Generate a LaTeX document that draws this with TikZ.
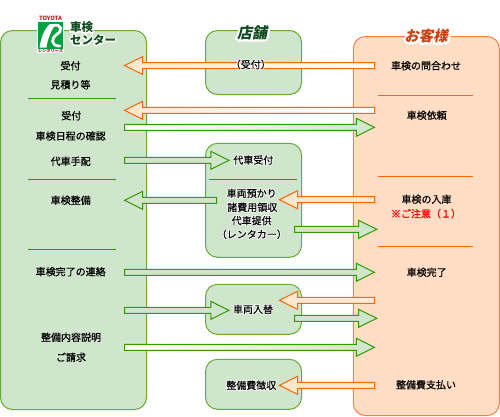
\documentclass[tikz,border=0pt]{standalone}
\usepackage{fontspec}
\usetikzlibrary{calc}
\setmainfont[FakeBold=0.6]{Noto Sans CJK JP}
\newfontfamily\halofont[FakeBold=16]{Noto Sans CJK JP}
\newfontfamily\titlehalo[FakeBold=26,FakeSlant=.2]{Noto Sans CJK JP Black}
\newfontfamily\titlefont[FakeSlant=.2]{Noto Sans CJK JP Black}
\newfontfamily\logotitlehalo[FakeBold=20]{Noto Sans CJK JP Black}
\newfontfamily\logotitle{Noto Sans CJK JP Black}
\newcommand{\halotext}[1]{\leavevmode\rlap{\color{white}\halofont #1}#1}
\newcommand{\titletext}[1]{\leavevmode\rlap{\color{white}\titlehalo #1}{\titlefont #1}}
\newcommand{\logotext}[1]{\leavevmode\rlap{\color{white}\logotitlehalo #1}{\logotitle #1}}
\definecolor{panelgreen}{HTML}{D0E6CC}
\definecolor{edgegreen}{HTML}{66AA33}
\definecolor{arrowgreen}{HTML}{339900}
\definecolor{panelorange}{HTML}{FFDEC5}
\definecolor{edgeorange}{HTML}{FF8040}
\definecolor{arroworange}{HTML}{FF6600}
\definecolor{peach}{HTML}{FFE8CC}
\definecolor{darktitle}{HTML}{0F4A1E}
\definecolor{redtitle}{HTML}{CC4010}
\definecolor{logogreen}{HTML}{00A040}
\definecolor{logored}{HTML}{D01020}
\tikzset{
  greenpanel/.style={draw=edgegreen,fill=panelgreen,line width=1pt,rounded corners=12pt,inner sep=0pt,outer sep=0pt},
  orangepanel/.style={draw=edgeorange,fill=panelorange,line width=1pt,rounded corners=12pt,inner sep=0pt,outer sep=0pt},
  label/.style={inner sep=0pt,font=\fontsize{10}{12}\selectfont,text=black},
  blockarrow/.style={line width=1pt,miter limit=10,to path={
    let \p1=(\tikztostart),\p2=(\tikztotarget),\n1={(\x2>\x1)?1:-1} in
    -- (\x1,{\y1+3pt}) -- ({\x2-\n1*18.2pt},{\y1+3pt}) -- ({\x2-\n1*18.2pt},{\y1+9pt})
    -- (\x2,\y1) -- ({\x2-\n1*18.2pt},{\y1-9pt}) -- ({\x2-\n1*18.2pt},{\y1-3pt})
    -- (\x1,{\y1-3pt}) -- cycle}},
  greenblock/.style={blockarrow,draw=arrowgreen,fill=panelgreen},
  orangeblock/.style={blockarrow,draw=arroworange,fill=peach},
  greenfade/.style={blockarrow,draw=arrowgreen,left color=white,right color=panelgreen},
  orangefade/.style={blockarrow,draw=arroworange,left color=peach,right color=white},
  greenrule/.style={draw=arrowgreen,line width=1pt},
  orangerule/.style={draw=arroworange,line width=1pt}
}
\begin{document}
\begin{tikzpicture}[x=1pt,y=-1pt]
\useasboundingbox (0,0) rectangle (500,416);
% panels
\node[greenpanel,minimum width=146pt,minimum height=379pt] (center) at (73.5,220) {};
\node[greenpanel,minimum width=96pt,minimum height=64pt] (shop1) at (253.5,62.5) {};
\node[greenpanel,minimum width=96pt,minimum height=114pt] (shop2) at (253.5,200.3) {};
\node[greenpanel,minimum width=96pt,minimum height=50pt] (shop3) at (253.5,309.3) {};
\node[greenpanel,minimum width=96pt,minimum height=50pt] (shop4) at (253.5,384.3) {};
\node[orangepanel,minimum width=146pt,minimum height=379pt] (customer) at (426.3,226) {};
% rules
\coordinate (r1a) at (28,98.5);   \coordinate (r1b) at (116,98.5);
\coordinate (r2a) at (28,179.3);  \coordinate (r2b) at (116,179.3);
\coordinate (r3a) at (28,249.3);  \coordinate (r3b) at (116,249.3);
\coordinate (r4a) at (209,179.3); \coordinate (r4b) at (297,179.3);
\coordinate (r5a) at (378,95.5);  \coordinate (r5b) at (472.5,95.5);
\coordinate (r6a) at (378,176.3); \coordinate (r6b) at (472.5,176.3);
\coordinate (r7a) at (378,246.3); \coordinate (r7b) at (472.5,246.3);
\draw[greenrule] (r1a) -- (r1b);
\draw[greenrule] (r2a) -- (r2b);
\draw[greenrule] (r3a) -- (r3b);
\draw[greenrule] (r4a) -- (r4b);
\draw[orangerule] (r5a) -- (r5b);
\draw[orangerule] (r6a) -- (r6b);
\draw[orangerule] (r7a) -- (r7b);
% arrows
\coordinate (a1t) at (374.5,65.5);  \coordinate (a1h) at (124.5,65.5);
\coordinate (a2t) at (374.5,110.3); \coordinate (a2h) at (124.5,110.3);
\coordinate (a3t) at (124.5,127.3); \coordinate (a3h) at (374.5,127.3);
\coordinate (a4t) at (124.5,160.3); \coordinate (a4h) at (229,160.3);
\coordinate (a5t) at (216.7,200.3); \coordinate (a5h) at (124.5,200.3);
\coordinate (a6t) at (374.5,199.7); \coordinate (a6h) at (279.3,199.7);
\coordinate (a7t) at (294.5,229.3); \coordinate (a7h) at (376.8,229.3);
\coordinate (a8t) at (124.5,272.3); \coordinate (a8h) at (374.5,272.3);
\coordinate (a9t) at (124.5,310.3); \coordinate (a9h) at (229,310.3);
\coordinate (a10t) at (374.5,300.3); \coordinate (a10h) at (279.3,300.3);
\coordinate (a11t) at (294.5,318.3); \coordinate (a11h) at (376.8,318.3);
\coordinate (a12t) at (124.5,347.3); \coordinate (a12h) at (374.5,347.3);
\coordinate (a13t) at (374.5,385.3); \coordinate (a13h) at (279.3,385.3);
\draw[orangefade] (a1t) to (a1h);
\draw[orangefade] (a2t) to (a2h);
\draw[greenfade] (a3t) to (a3h);
\draw[greenblock] (a4t) to (a4h);
\draw[greenblock] (a5t) to (a5h);
\draw[orangeblock] (a6t) to (a6h);
\draw[greenblock] (a7t) to (a7h);
\draw[greenblock] (a8t) to (a8h);
\draw[greenblock] (a9t) to (a9h);
\draw[orangeblock] (a10t) to (a10h);
\draw[greenblock] (a11t) to (a11h);
\draw[greenfade] (a12t) to (a12h);
\draw[orangeblock] (a13t) to (a13h);
% left column
\node[label] (c1) at (70.5,65.7) {受付};
\node[label] (c2) at (70.5,84.7) {見積り等};
\node[label] (c3) at (71.3,115.7) {受付};
\node[label] (c4) at (70.7,136) {車検日程の確認};
\node[label] (c5) at (70.7,161.3) {代車手配};
\node[label] (c6) at (70.7,200.3) {車検整備};
\node[label] (c7) at (70.7,271.7) {車検完了の連絡};
\node[label] (c8) at (71,337.3) {整備内容説明};
\node[label] (c9) at (71,357.3) {ご請求};
% middle column
\node[label] (s1) at (250.8,64.5) {\halotext{（受付）}};
\node[label] (s2) at (253.3,160) {\halotext{代車受付}};
\node[label] (s3) at (251.7,193.3) {\halotext{車両預かり}};
\node[label] (s4) at (252.3,207.3) {\halotext{諸費用領収}};
\node[label] (s5) at (251.7,220.7) {\halotext{代車提供}};
\node[label] (s6) at (251.8,234.3) {\halotext{（レンタカー）}};
\node[label] (s7) at (253,309.3) {\halotext{車両入替}};
\node[label] (s8) at (251.3,385.3) {\halotext{整備費徴収}};
% right column
\node[label] (k1) at (426,65.7) {車検の問合わせ};
\node[label] (k2) at (426.7,115.3) {車検依頼};
\node[label] (k3) at (426.5,199.3) {車検の入庫};
\node[label,text=red] (k4) at (426,213.7) {※ご注意（１）};
\node[label] (k5) at (426.7,272.3) {車検完了};
\node[label] (k6) at (426,384.7) {整備費支払い};
% titles
\node[inner sep=0pt,font=\fontsize{15}{16}\selectfont,text=darktitle] (t1) at (252,32.5) {\titletext{店舗}};
\node[inner sep=0pt,font=\fontsize{14.5}{16}\selectfont,text=redtitle] (t2) at (426,36) {\titletext{お客様}};
\node[inner sep=0pt,font=\fontsize{11.5}{13}\selectfont,text=darktitle] (t3) at (81.5,27.5) {\logotext{車検}};
\node[inner sep=0pt,font=\fontsize{11.5}{13}\selectfont,text=darktitle] (t4) at (93,40) {\logotext{センター}};
% logo
\fill[white] (37,15) rectangle (64,53);
\fill[logogreen] (38,22.3) rectangle (63.3,49);
\fill[white] (39.5,47.5) .. controls (41,38) and (44,29) .. (50,24) -- (56,24) .. controls (50.5,31) and (47.5,40) .. (46.5,47.5) -- cycle;
\draw[white,line width=2.8pt,line cap=round] (53,25.5) .. controls (62,23.5) and (63,31) .. (56.5,34.5) .. controls (51,37.5) and (50.5,46.5) .. (60,46);
\node[inner sep=0pt,font=\fontsize{5.8}{6}\selectfont,text=logored] (l1) at (50.5,18.7) {\logotitle TOYOTA};
\node[inner sep=0pt,font=\fontsize{4.2}{5}\selectfont,text=logored] (l2) at (50.5,51) {\logotitle レンタリース};
\end{tikzpicture}
\end{document}
